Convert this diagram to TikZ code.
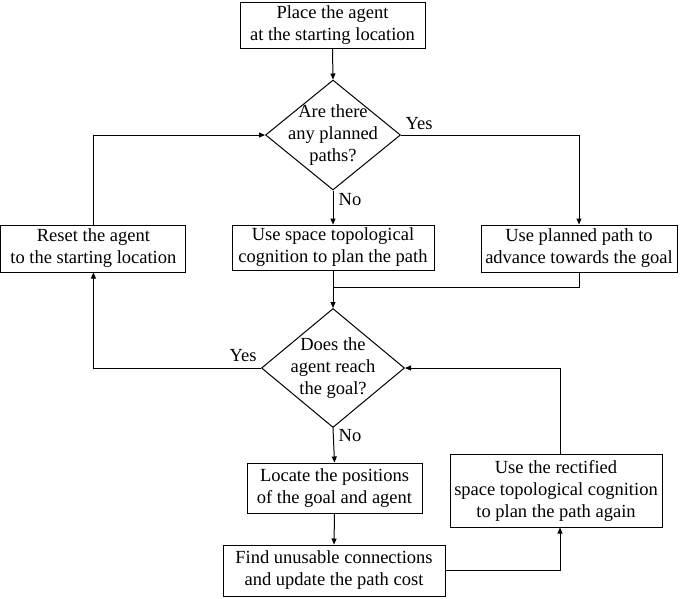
\documentclass[tikz,border=0pt]{standalone}
\usepackage{fontspec}
\setmainfont{Liberation Serif}
\usetikzlibrary{shapes.geometric,arrows.meta}
\begin{document}
\begin{tikzpicture}[x=1pt,y=-1pt,
  every node/.style={font=\fontsize{18.5}{22}\selectfont},
  box/.style={draw, line width=1pt, inner sep=0pt, align=center},
  dia/.style={draw, diamond, line width=1pt, inner sep=0pt},
  dtext/.style={align=center, inner sep=0pt},
  lbl/.style={inner sep=0pt},
  conn/.style={line width=1pt},
  arr/.style={conn, -{Triangle[length=6pt,width=5pt]}}]
\useasboundingbox (0,0) rectangle (685,598);
\node[box, minimum width=185pt, minimum height=46pt] (start) at (332.5,25) {Place the agent\\at the starting location};
\node[dia, minimum width=135pt, minimum height=110pt] (d1) at (333,135) {};
\node[dtext] at (d1) {Are there\\any planned\\paths?};
\node[box, minimum width=185pt, minimum height=47pt] (reset) at (93.4,248.5) {Reset the agent\\to the starting location};
\node[box, minimum width=202pt, minimum height=45pt] (use) at (333,247.5) {Use space topological\\cognition to plan the path};
\node[box, minimum width=196pt, minimum height=47pt] (plan) at (579,248.5) {Use planned path to\\advance towards the goal};
\node[dia, minimum width=143pt, minimum height=119pt] (d2) at (333,368) {};
\node[dtext] at (d2) {Does the\\agent reach\\the goal?};
\node[box, minimum width=175pt, minimum height=50pt] (locate) at (334.5,488) {Locate the positions\\of the goal and agent};
\node[box, minimum width=222pt, minimum height=51pt] (find) at (334,570.5) {Find unusable connections\\and update the path cost};
\node[box, minimum width=212pt, minimum height=73pt] (rect) at (556,490.5) {Use the rectified\\space topological cognition\\to plan the path again};
\coordinate (merge) at (333,287);
\coordinate (rb) at ([xshift=4pt]rect.south);
\coordinate (rt) at ([xshift=4pt]rect.north);
\draw[arr] (start.south) -- (d1.north);
\draw[arr] (d1.south) -- (use.north);
\draw[arr] (d1.east) -| (plan.north);
\draw[arr] (reset.north) |- (d1.west);
\draw[arr] (use.south) -- (d2.north);
\draw[conn] (plan.south) |- (merge);
\draw[arr] (d2.west) -| (reset.south);
\draw[arr] (d2.south) -- (locate.north);
\draw[arr] (locate.south) -- (find.north);
\draw[arr] (find.east) -| (rb);
\draw[arr] (rt) |- (d2.east);
\node[lbl] (y1) at (419,124) {Yes};
\node[lbl] (n1) at (350,200) {No};
\node[lbl] (y2) at (243,356) {Yes};
\node[lbl] (n2) at (350,436) {No};
\end{tikzpicture}
\end{document}
